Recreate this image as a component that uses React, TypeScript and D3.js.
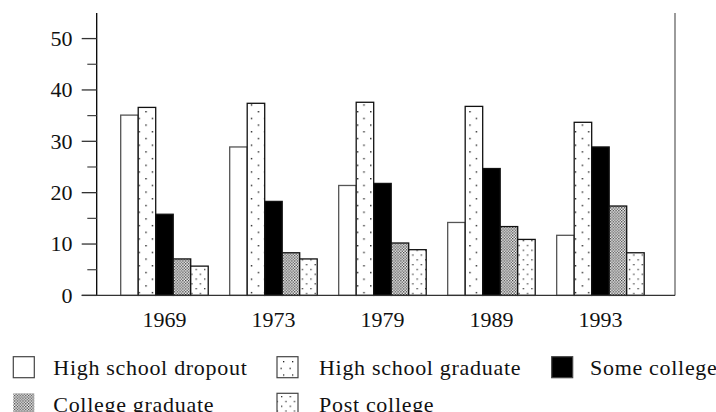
import React from "react";
import * as d3 from "d3";

const years = ["1969", "1973", "1979", "1989", "1993"];
const seriesNames = [
  "High school dropout",
  "High school graduate",
  "Some college",
  "College graduate",
  "Post college",
];
const dropout = [35.1, 28.9, 21.4, 14.2, 11.7];
const hsGraduate = [36.6, 37.4, 37.6, 36.8, 33.7];
const someCollege = [15.8, 18.3, 21.8, 24.7, 28.9];
const collegeGraduate = [7.1, 8.3, 10.2, 13.4, 17.4];
const postCollege = [5.7, 7.1, 8.9, 10.9, 8.3];
const yTicks = [0, 10, 20, 30, 40, 50];
const yMinorTicks = [5, 15, 25, 35, 45];

const seriesValues = [dropout, hsGraduate, someCollege, collegeGraduate, postCollege];
const FONT = "'Liberation Serif', 'Times New Roman', serif";

export default function App() {
  const W = 716;
  const H = 412;
  const axisLeft = 96.7;
  const axisRight = 675;
  const y = d3.scaleLinear().domain([0, 55]).range([295.4, 12.9]);
  const x = d3
    .scaleBand<string>()
    .domain(years)
    .range([120.7, 644.2])
    .paddingInner(0.197)
    .paddingOuter(0);
  const xs = d3
    .scaleBand<string>()
    .domain(seriesNames)
    .range([0, x.bandwidth()])
    .padding(0);
  const bw = xs.bandwidth();

  const fillFor = (si: number, gi: number) => {
    if (si === 0) return "#fff";
    if (si === 1) return `url(#hs-${gi})`;
    if (si === 2) return "#000";
    if (si === 3) return "url(#cg)";
    return `url(#pc-${gi})`;
  };

  const legendCols = [13.3, 277, 551.7];
  const legendRows = [356.7, 393.3];
  const legendItems = seriesNames.map((name, i) => ({
    name,
    col: i % 3,
    row: Math.floor(i / 3),
  }));

  return (
    <svg
      width={W}
      height={H}
      style={{ position: "absolute", left: 0, top: 0, background: "#fff" }}
      fontFamily={FONT}
    >
      <defs>
        {years.map((yr, gi) => {
          const bx = (x(yr) as number) + (xs(seriesNames[1]) as number);
          return (
            <pattern
              key={"hs" + yr}
              id={`hs-${gi}`}
              patternUnits="userSpaceOnUse"
              x={bx + 5.2}
              y={111}
              width={13.2}
              height={13.4}
            >
              <rect width={13.2} height={13.4} fill="#fff" />
              <rect x={0} y={0} width={1.4} height={1.4} fill="#222" />
              <rect x={6.4} y={6.7} width={1.4} height={1.4} fill="#222" />
            </pattern>
          );
        })}
        {years.map((yr, gi) => {
          const bx = (x(yr) as number) + (xs(seriesNames[4]) as number);
          return (
            <pattern
              key={"pc" + yr}
              id={`pc-${gi}`}
              patternUnits="userSpaceOnUse"
              x={bx + 4.5}
              y={0}
              width={8.6}
              height={9.6}
            >
              <rect width={8.6} height={9.6} fill="#fff" />
              <rect x={0} y={0} width={1.3} height={1.3} fill="#333" />
              <rect x={4.3} y={4.8} width={1.3} height={1.3} fill="#333" />
            </pattern>
          );
        })}
        <pattern id="cg" patternUnits="userSpaceOnUse" width={2.8} height={2.8}>
          <rect width={2.8} height={2.8} fill="#fff" />
          <rect x={0} y={0} width={1.3} height={1.3} fill="#333" />
          <rect x={1.4} y={1.4} width={1.3} height={1.3} fill="#333" />
        </pattern>
        <pattern id="hs-leg" patternUnits="userSpaceOnUse" x={277 + 6} y={361} width={9} height={13.4}>
          <rect width={9} height={13.4} fill="#fff" />
          <rect x={0} y={0} width={1.3} height={1.3} fill="#222" />
          <rect x={6.5} y={6.7} width={1.3} height={1.3} fill="#222" />
        </pattern>
        <pattern id="pc-leg" patternUnits="userSpaceOnUse" x={277 + 4} y={396} width={8.6} height={9.6}>
          <rect width={8.6} height={9.6} fill="#fff" />
          <rect x={0} y={0} width={1.3} height={1.3} fill="#333" />
          <rect x={4.3} y={4.8} width={1.3} height={1.3} fill="#333" />
        </pattern>
      </defs>

      {/* bars */}
      {years.map((yr, gi) => (
        <g key={yr} transform={`translate(${x(yr)},0)`}>
          {seriesNames.map((s, si) => {
            const v = seriesValues[si][gi];
            return (
              <rect
                key={s}
                x={xs(s)}
                y={y(v)}
                width={bw}
                height={y(0) - y(v)}
                fill={fillFor(si, gi)}
                stroke={si === 0 ? "#555" : "#111"}
                strokeWidth={1.3}
              />
            );
          })}
        </g>
      ))}

      {/* axes */}
      <line x1={axisLeft} x2={axisLeft} y1={y(55)} y2={y(0)} stroke="#000" strokeWidth={1.3} />
      <line x1={axisRight} x2={axisRight} y1={y(55)} y2={y(0)} stroke="#666" strokeWidth={1.3} />
      <line x1={81.7} x2={axisRight} y1={y(0)} y2={y(0)} stroke="#333" strokeWidth={1.3} />
      {yTicks.map((t) => (
        <g key={t}>
          <line x1={81.7} x2={axisLeft} y1={y(t)} y2={y(t)} stroke="#333" strokeWidth={1.3} />
          <text
            x={72.5}
            y={y(t)}
            dy="0.33em"
            textAnchor="end"
            fontSize={22}
            fill="#111"
          >
            {t}
          </text>
        </g>
      ))}
      {yMinorTicks.map((t) => (
        <line key={t} x1={87.3} x2={axisLeft} y1={y(t)} y2={y(t)} stroke="#444" strokeWidth={1.2} />
      ))}
      {years.map((yr) => (
        <text
          key={yr}
          x={(x(yr) as number) + x.bandwidth() / 2}
          y={326.7}
          textAnchor="middle"
          fontSize={22}
          fill="#111"
        >
          {yr}
        </text>
      ))}

      {/* legend */}
      {legendItems.map((it, i) => {
        const bx = legendCols[it.col];
        const by = legendRows[it.row];
        const fill =
          i === 0 ? "#fff" : i === 1 ? "url(#hs-leg)" : i === 2 ? "#000" : i === 3 ? "url(#cg)" : "url(#pc-leg)";
        const tx = it.col === 0 ? 53.3 : it.col === 1 ? 319 : 590;
        return (
          <g key={it.name}>
            <rect
              x={bx}
              y={by}
              width={21}
              height={21}
              fill={fill}
              stroke={i === 3 ? "none" : "#444"}
              strokeWidth={1.2}
            />
            <text x={tx} y={by + 18.3} fontSize={22} letterSpacing={0.7} fill="#111">
              {it.name}
            </text>
          </g>
        );
      })}
    </svg>
  );
}
